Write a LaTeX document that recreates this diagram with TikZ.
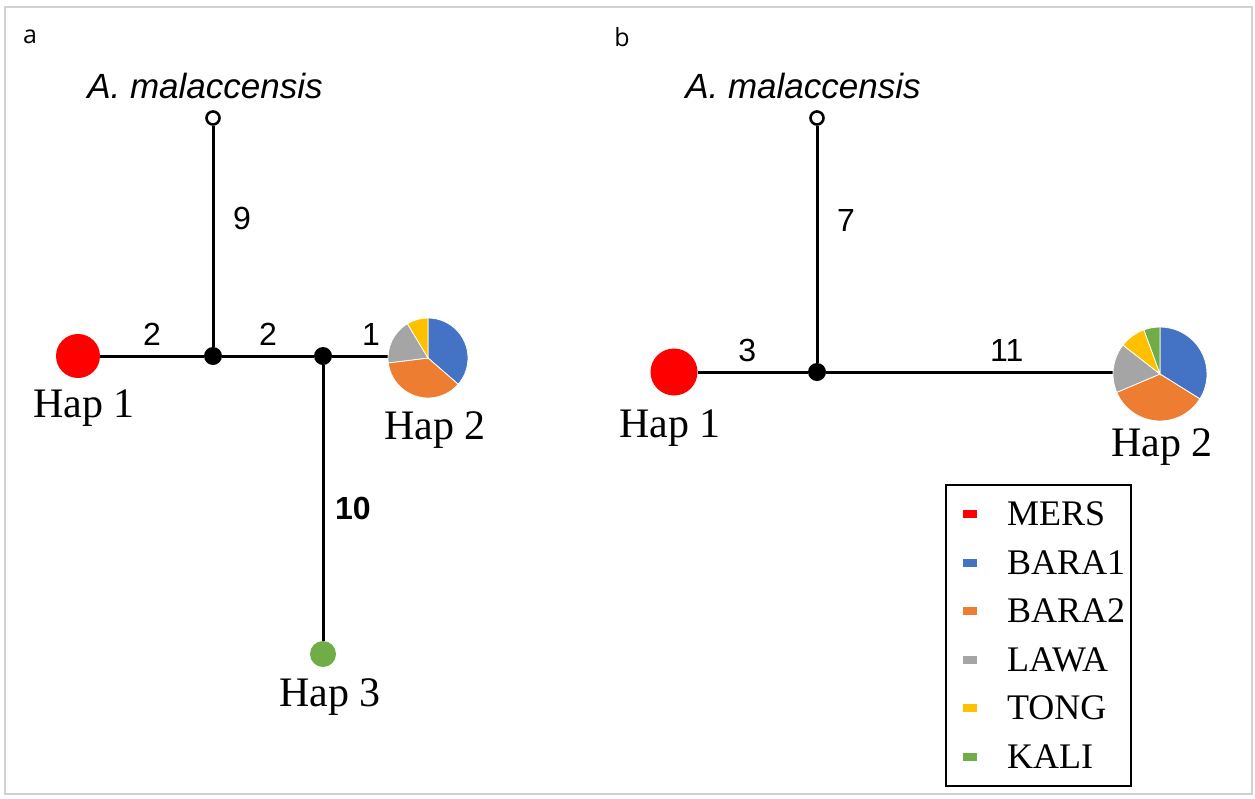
\documentclass[tikz,border=0pt]{standalone}
\usepackage{fontspec}
\setmainfont{Liberation Serif}
\setsansfont{Liberation Sans}
\newfontfamily\panelfont{Open Sans}
\usepackage{tikz}
\usetikzlibrary{positioning}
\definecolor{mers}{HTML}{FF0000}
\definecolor{baraone}{HTML}{4472C4}
\definecolor{baratwo}{HTML}{ED7D31}
\definecolor{lawa}{HTML}{A5A5A5}
\definecolor{tong}{HTML}{FFC000}
\definecolor{kali}{HTML}{70AD47}
\tikzset{
  edge/.style={line width=1.5pt},
  hap/.style={circle, inner sep=0, minimum size=#1},
  junction/.style={circle, fill=black, inner sep=0, minimum size=9pt},
  outgroup/.style={circle, draw, fill=white, line width=1.3pt, inner sep=0, minimum size=6.5pt},
  haplabel/.style={font=\fontsize{21}{23}\selectfont},
  legtext/.style={font=\fontsize{18}{20}\selectfont},
  steps/.style={font=\sffamily\fontsize{16}{18}\selectfont},
  species/.style={font=\sffamily\itshape\fontsize{17.5}{20}\selectfont},
  panel/.style={font=\panelfont\fontsize{12.5}{14}\selectfont},
  slice/.style={draw=white, line width=0.4pt},
  legkey/.style={inner sep=0, minimum width=7pt, minimum height=4pt},
}
\begin{document}
\begin{tikzpicture}[x=0.5pt, y=-0.5pt]
  \useasboundingbox (0,0) rectangle (1255,799);
  \draw[black!18, line width=0.8pt] (5,7) rectangle (1252,794);
  % panel a %
  \node[panel] (pa) at (30,37) {a};
  \node[outgroup] (outA) at (213,118) {};
  \node[species] (spA) at (205,86) {A. malaccensis};
  \node[junction] (jA1) at (213,356) {};
  \node[junction] (jA2) at (323,356) {};
  \node[hap=22pt, fill=mers] (hapOneA) at (78,356) {};
  \node[hap=40pt] (hapTwoA) at (428,358) {};
  \node[hap=13pt, fill=kali] (hapThreeA) at (323,654) {};
  % edges %
  \draw[edge] (outA) -- (jA1) node[steps, pos=0.42, right=6pt] {9};
  \draw[edge] (hapOneA) -- (jA1) node[steps, midway, above=1pt] {2};
  \draw[edge] (jA1) -- (jA2) node[steps, midway, above=1pt] {2};
  \draw[edge] (jA2) -- (jA2 -| hapTwoA.west) node[steps, pos=0.7, above=1pt] {1};
  \draw[edge] (jA2) -- (hapThreeA) node[steps, pos=0.52, right=2pt] {\bfseries 10};
  % pie a %
  \fill[baraone, slice] (hapTwoA.center) -- ++(90:20pt) arc[start angle=90, end angle=-41, radius=20pt] -- cycle;
  \fill[baratwo, slice] (hapTwoA.center) -- ++(-41:20pt) arc[start angle=-41, end angle=-173, radius=20pt] -- cycle;
  \fill[lawa, slice] (hapTwoA.center) -- ++(187:20pt) arc[start angle=187, end angle=121, radius=20pt] -- cycle;
  \fill[tong, slice] (hapTwoA.center) -- ++(121:20pt) arc[start angle=121, end angle=90, radius=20pt] -- cycle;
  % labels %
  \node[haplabel] (lOneA) at (84,408) {Hap 1};
  \node[haplabel] (lTwoA) at (435,430) {Hap 2};
  \node[haplabel] (lThreeA) at (330,697) {Hap 3};
  % panel b %
  \node[panel] (pb) at (622,37) {b};
  \node[outgroup] (outB) at (817,118) {};
  \node[species] (spB) at (803,86) {A. malaccensis};
  \node[junction] (jB) at (817,372) {};
  \node[hap=23.5pt, fill=mers] (hapOneB) at (674,372) {};
  \node[hap=47pt] (hapTwoB) at (1160,374) {};
  % edges %
  \draw[edge] (outB) -- (jB) node[steps, pos=0.4, right=6pt] {7};
  \draw[edge] (hapOneB) -- (jB) node[steps, pos=0.45, above=1pt] {3};
  \draw[edge] (jB) -- (jB -| hapTwoB.west) node[steps, pos=0.63, above=1pt] {11};
  % pie b %
  \fill[baraone, slice] (hapTwoB.center) -- ++(90:23.5pt) arc[start angle=90, end angle=-32, radius=23.5pt] -- cycle;
  \fill[baratwo, slice] (hapTwoB.center) -- ++(-32:23.5pt) arc[start angle=-32, end angle=-157, radius=23.5pt] -- cycle;
  \fill[lawa, slice] (hapTwoB.center) -- ++(203:23.5pt) arc[start angle=203, end angle=142, radius=23.5pt] -- cycle;
  \fill[tong, slice] (hapTwoB.center) -- ++(142:23.5pt) arc[start angle=142, end angle=110, radius=23.5pt] -- cycle;
  \fill[kali, slice] (hapTwoB.center) -- ++(110:23.5pt) arc[start angle=110, end angle=90, radius=23.5pt] -- cycle;
  % labels %
  \node[haplabel] (lOneB) at (670,428) {Hap 1};
  \node[haplabel] (lTwoB) at (1162,447) {Hap 2};
  % legend %
  \node[draw, line width=0.8pt, minimum width=92.5pt, minimum height=150.5pt, inner sep=0] (legend) at (1038.5,635.5) {};
  \foreach \col/\name [count=\i] in {mers/MERS, baraone/BARA1, baratwo/BARA2, lawa/LAWA, tong/TONG, kali/KALI} {
    \node[legkey, fill=\col] (key\i) at (970,{514+48.5*(\i-1)}) {};
    \node[legtext, anchor=west] (name\i) at (1000,{514+48.5*(\i-1)}) {\name};
  }
\end{tikzpicture}
\end{document}
